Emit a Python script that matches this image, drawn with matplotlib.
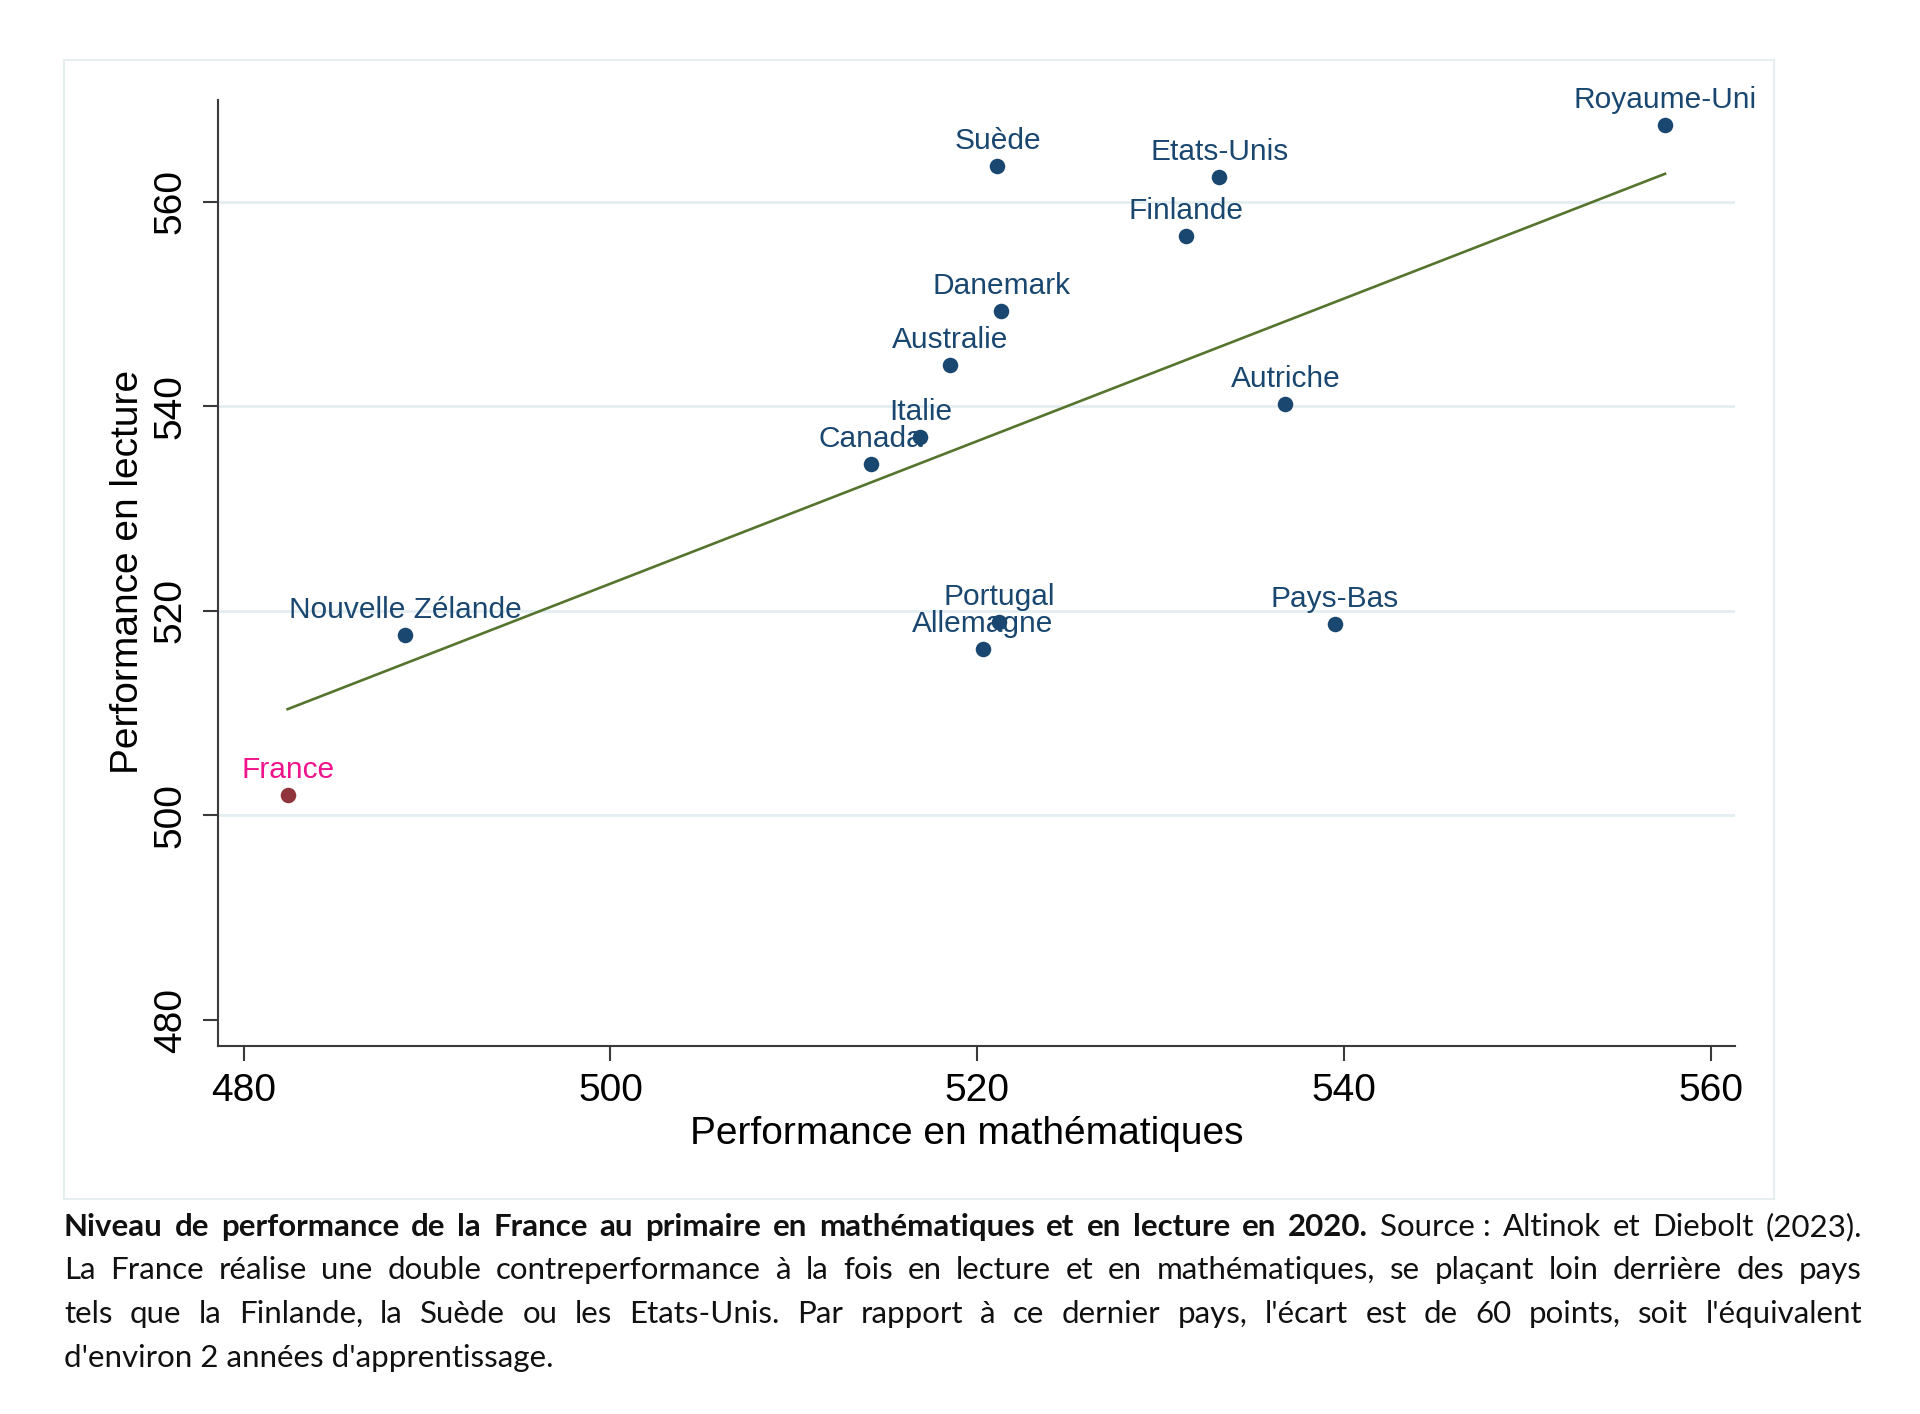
import matplotlib.pyplot as plt
import matplotlib.transforms as mtransforms
from matplotlib.patches import Rectangle
import numpy as np

# Data
countries = ["France", "Nouvelle Zélande", "Canada", "Italie", "Australie", "Danemark",
             "Suède", "Portugal", "Allemagne", "Finlande", "Etats-Unis", "Autriche",
             "Pays-Bas", "Royaume-Uni"]
maths = [482.4, 488.8, 514.2, 516.9, 518.5, 521.3, 521.1, 521.2, 520.3, 531.4, 533.2,
         536.8, 539.5, 557.5]
lecture = [502.0, 517.6, 534.4, 537.0, 544.0, 549.3, 563.5, 518.9, 516.3, 556.6, 562.4,
           540.2, 518.7, 567.5]
highlight = "France"

x_ticks = [480, 500, 520, 540, 560]
y_ticks = [480, 500, 520, 540, 560]
grid_levels = [500, 520, 540, 560]

navy = "#1a476f"
maroon = "#90353b"
pink = "#f0148c"
green = "#55752f"
gridcol = "#e4eef0"
axcol = "#3a3a3a"

fig = plt.figure(figsize=(19.2, 14.14), dpi=100)

# light frame around the graph area
fig.patches.append(Rectangle((0.0332, 0.1522), 0.8908, 0.8054, transform=fig.transFigure,
                             fill=False, edgecolor="#e6eef0", lw=1.5))

ax = fig.add_axes([0.1135, 0.2605, 0.790, 0.6685])
ax.set_xlim(478.6, 561.3)
ax.set_ylim(477.5, 569.9)

for g in grid_levels:
    ax.axhline(g, color=gridcol, lw=2, zorder=0)

# fitted line
coef = np.polyfit(maths, lecture, 1)
xs = np.array([min(maths), max(maths)])
ax.plot(xs, np.polyval(coef, xs), color=green, lw=1.9, zorder=2)

for name, mx, ly in zip(countries, maths, lecture):
    dot = maroon if name == highlight else navy
    txt = pink if name == highlight else navy
    ax.scatter(mx, ly, s=125, color=dot, zorder=3, linewidths=0)
    ax.annotate(name, (mx, ly), xytext=(0, 18), textcoords="offset points",
                ha="center", va="center", fontsize=21.5, color=txt,
                family="Liberation Sans", zorder=4)

for s in ["top", "right"]:
    ax.spines[s].set_visible(False)
for s in ["left", "bottom"]:
    ax.spines[s].set_color(axcol)
    ax.spines[s].set_linewidth(1.5)

ax.set_xticks(x_ticks)
ax.set_yticks(y_ticks)
ax.tick_params(axis="both", direction="out", length=11, width=1.5, color=axcol,
               labelsize=28, labelcolor="black")
ax.tick_params(axis="x", pad=9)
ax.tick_params(axis="y", pad=10)
for lab in ax.get_yticklabels() + ax.get_xticklabels():
    lab.set_family("Liberation Sans")
for lab in ax.get_yticklabels():
    lab.set_rotation(90)
    lab.set_va("center")

ax.set_xlabel("Performance en mathématiques", fontsize=28, family="Liberation Sans", va="center")
ax.xaxis.set_label_coords(0.494, -0.093)
ax.set_ylabel("Performance en lecture", fontsize=28, family="Liberation Sans", va="center")
ax.yaxis.set_label_coords(-0.059, 0.501)

# caption, justified like the original
caption = [
    [("Niveau de performance de la France au primaire en mathématiques et en lecture en 2020.", "bold"),
     ("Source\u00a0: Altinok et Diebolt (2023).", "normal")],
    [("La France réalise une double contreperformance à la fois en lecture et en mathématiques, "
      "se plaçant loin derrière des pays", "normal")],
    [("tels que la Finlande, la Suède ou les Etats-Unis. Par rapport à ce dernier pays, "
      "l'écart est de 60 points, soit l'équivalent", "normal")],
    [("d'environ 2 années d'apprentissage.", "normal")],
]
baselines = [1236, 1279, 1323, 1367]
x_left, x_right = 64, 1862
H = 1414
ident = mtransforms.IdentityTransform()
renderer = fig.canvas.get_renderer()
cap_font = "Lato"

size = 22.5
widest = 0
for parts in caption[:-1]:
    total = 0
    for seg, wt in parts:
        t = fig.text(0, 0, seg + " ", fontsize=size, fontweight=wt, family=cap_font)
        total += t.get_window_extent(renderer).width
        t.remove()
    widest = max(widest, total)
if widest > (x_right - x_left):
    size = size * (x_right - x_left) * 0.985 / widest

for i, parts in enumerate(caption):
    y = H - baselines[i]
    words = []
    for seg, wt in parts:
        for w in seg.split(" "):
            words.append((w, wt))
    if i == len(caption) - 1:
        fig.text(x_left, y, parts[0][0], fontsize=size, family=cap_font, transform=ident,
                 va="baseline", ha="left", color="#111111")
        continue
    objs = []
    widths = []
    for w, wt in words:
        t = fig.text(0, y, w, fontsize=size, fontweight=wt, family=cap_font,
                     transform=ident, va="baseline", ha="left", color="#111111")
        objs.append(t)
        widths.append(t.get_window_extent(renderer).width)
    gap = (x_right - x_left - sum(widths)) / (len(words) - 1)
    xpos = x_left
    for t, w in zip(objs, widths):
        t.set_x(xpos)
        xpos += w + gap

fig.savefig("out.png", dpi=100)
